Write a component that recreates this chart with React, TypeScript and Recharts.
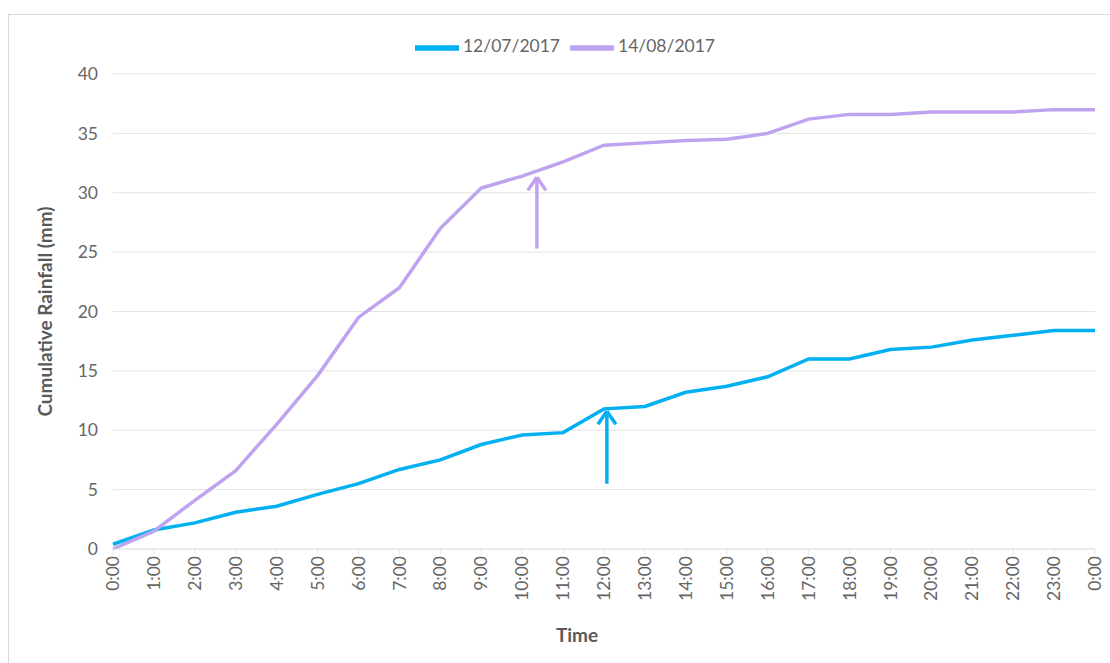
import {
  CartesianGrid,
  Legend,
  Line,
  LineChart,
  ReferenceLine,
  XAxis,
  YAxis,
} from 'recharts'

const hours = [
  '0:00', '1:00', '2:00', '3:00', '4:00', '5:00', '6:00', '7:00', '8:00',
  '9:00', '10:00', '11:00', '12:00', '13:00', '14:00', '15:00', '16:00',
  '17:00', '18:00', '19:00', '20:00', '21:00', '22:00', '23:00', '0:00',
]

const rainJul = [
  0.4, 1.6, 2.2, 3.1, 3.6, 4.6, 5.5, 6.7, 7.5, 8.8, 9.6, 9.8, 11.8, 12.0,
  13.2, 13.7, 14.5, 16.0, 16.0, 16.8, 17.0, 17.6, 18.0, 18.4, 18.4,
]

const rainAug = [
  0, 1.5, 4.1, 6.6, 10.5, 14.6, 19.5, 22.0, 27.0, 30.4, 31.4, 32.6, 34.0,
  34.2, 34.4, 34.5, 35.0, 36.2, 36.6, 36.6, 36.8, 36.8, 36.8, 37.0, 37.0,
]

const yTicks = [0, 5, 10, 15, 20, 25, 30, 35, 40]

const BLUE = '#00b0f0'
const PURPLE = '#bfa3f0'
const TEXT = '#666666'
const FONT = 'Lato, "Open Sans", sans-serif'

const data = hours.map((label, i) => ({
  t: i,
  label,
  jul: rainJul[i],
  aug: rainAug[i],
}))

// annotation arrows (x in hour index, y in mm)
const arrows = [
  { x: 10.36, from: 25.3, to: 31.3, color: PURPLE },
  { x: 12.07, from: 5.5, to: 11.6, color: BLUE },
]

function HourTick(props: any) {
  const { x, y, payload } = props
  return (
    <text
      x={x}
      y={y}
      transform={`rotate(-90, ${x}, ${y})`}
      textAnchor="end"
      dy="0.35em"
      fill={TEXT}
      fontSize={17.5}
      fontFamily={FONT}
    >
      {hours[payload.value]}
    </text>
  )
}

export default function App() {
  return (
    <div
      style={{
        position: 'absolute',
        left: 0,
        top: 0,
        width: 1110,
        height: 663,
        background: '#fff',
        overflow: 'hidden',
        fontFamily: FONT,
      }}
    >
      <div
        style={{
          position: 'absolute',
          left: 8,
          top: 14,
          width: 1120,
          height: 680,
          border: '1px solid #d9d9d9',
        }}
      />
      <div style={{ position: 'absolute', left: 0, top: 0 }}>
        <LineChart
          width={1110}
          height={663}
          data={data}
          margin={{ top: 30, right: 15, bottom: 14, left: 33 }}
        >
          <CartesianGrid vertical={false} stroke="#e3e3e3" />
          <XAxis
            type="number"
            dataKey="t"
            domain={[0, 24]}
            ticks={hours.map((_, i) => i)}
            interval={0}
            tick={<HourTick />}
            tickLine={{ stroke: '#e3e3e3' }}
            tickSize={5}
            axisLine={{ stroke: '#e3e3e3' }}
            height={100}
            label={{
              value: 'Time',
              position: 'insideBottom',
              offset: 7,
              dx: -27,
              fill: '#595959',
              fontSize: 19,
              fontWeight: 700,
              fontFamily: FONT,
            }}
          />
          <YAxis
            domain={[0, 40]}
            ticks={yTicks}
            axisLine={false}
            tickLine={false}
            width={80}
            tick={{ fill: TEXT, fontSize: 17.5, fontFamily: FONT }}
            tickMargin={9}
            label={{
              value: 'Cumulative Rainfall (mm)',
              angle: -90,
              position: 'insideLeft',
              offset: 12,
              style: { textAnchor: 'middle' },
              fill: '#595959',
              fontSize: 19,
              fontWeight: 700,
              fontFamily: FONT,
            }}
          />
          <Legend
            verticalAlign="top"
            align="center"
            iconType="plainline"
            iconSize={44}
            wrapperStyle={{ left: 0, width: 1140, top: 26, fontSize: 17.5, fontFamily: FONT }}
            formatter={(value: string) => <span style={{ color: TEXT }}>{value}</span>}
          />
          <Line
            type="linear"
            dataKey="jul"
            name="12/07/2017"
            stroke={BLUE}
            strokeWidth={3.5}
            dot={false}
            isAnimationActive={false}
          />
          <Line
            type="linear"
            dataKey="aug"
            name="14/08/2017"
            stroke={PURPLE}
            strokeWidth={3.5}
            dot={false}
            isAnimationActive={false}
          />
          {arrows.map((a, i) => [
            <ReferenceLine
              key={`s${i}`}
              segment={[{ x: a.x, y: a.from }, { x: a.x, y: a.to }]}
              stroke={a.color}
              strokeWidth={3.5}
            />,
            <ReferenceLine
              key={`l${i}`}
              segment={[{ x: a.x - 0.22, y: a.to - 1.1 }, { x: a.x, y: a.to }]}
              stroke={a.color}
              strokeWidth={3.5}
            />,
            <ReferenceLine
              key={`r${i}`}
              segment={[{ x: a.x + 0.22, y: a.to - 1.1 }, { x: a.x, y: a.to }]}
              stroke={a.color}
              strokeWidth={3.5}
            />,
          ])}
        </LineChart>
      </div>
    </div>
  )
}
